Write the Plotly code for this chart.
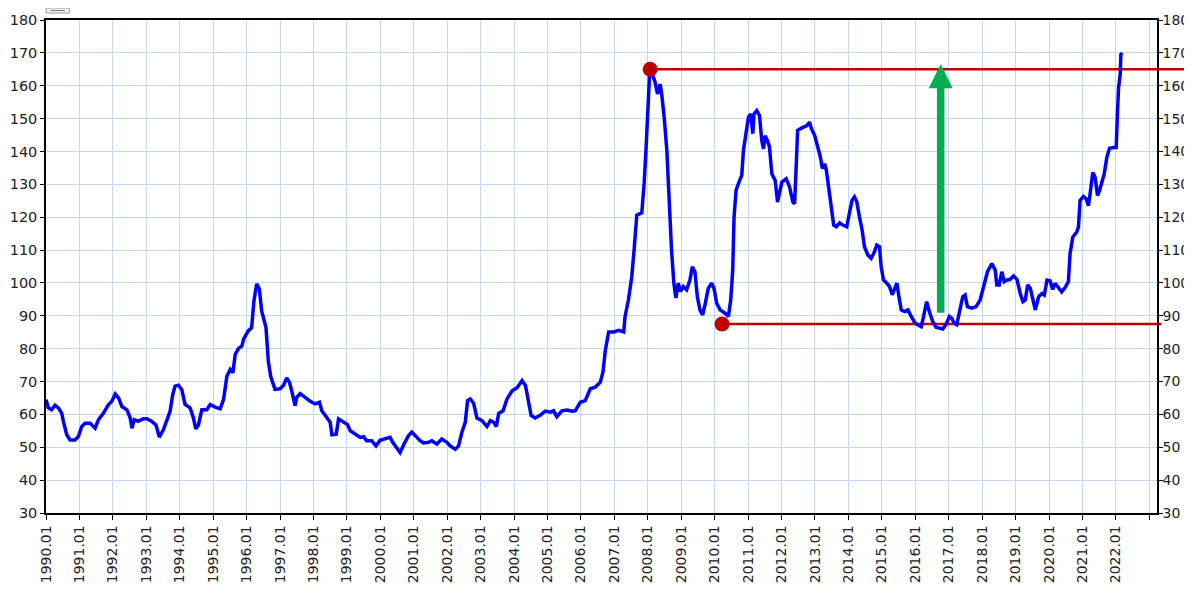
import plotly.graph_objects as go

# ---- data (decimal year, value) ----
years = [
    1990.00, 1990.07, 1990.17, 1990.27, 1990.37, 1990.47, 1990.52, 1990.62, 1990.72, 1990.87, 1990.97,
    1991.07, 1991.17, 1991.32, 1991.47, 1991.57, 1991.72, 1991.87, 1991.97, 1992.07, 1992.17, 1992.27,
    1992.42, 1992.52, 1992.57, 1992.64, 1992.76, 1992.91, 1993.01, 1993.16, 1993.29, 1993.39, 1993.51,
    1993.61, 1993.71, 1993.79, 1993.86, 1993.96, 1994.06, 1994.16, 1994.31, 1994.41, 1994.48, 1994.56,
    1994.66, 1994.81, 1994.91, 1995.06, 1995.21, 1995.31, 1995.41, 1995.51, 1995.59, 1995.66, 1995.76,
    1995.86, 1995.91, 1996.05, 1996.15, 1996.22, 1996.30, 1996.38, 1996.45, 1996.58, 1996.65, 1996.72,
    1996.85,
    1997.00, 1997.10, 1997.20, 1997.28, 1997.35, 1997.45, 1997.50, 1997.60, 1997.75, 1997.90, 1998.05,
    1998.18, 1998.25, 1998.40, 1998.50, 1998.55, 1998.68, 1998.75, 1998.90, 1999.02, 1999.10, 1999.25,
    1999.40, 1999.50, 1999.59, 1999.74, 1999.87, 1999.99, 2000.14, 2000.29, 2000.37, 2000.49, 2000.59,
    2000.71, 2000.84, 2000.94, 2001.04, 2001.19, 2001.29, 2001.44, 2001.54, 2001.69, 2001.84, 2001.99,
    2002.09, 2002.24, 2002.34, 2002.44, 2002.54, 2002.61, 2002.69, 2002.79, 2002.89, 2003.04, 2003.19,
    2003.29, 2003.39, 2003.47, 2003.54, 2003.67, 2003.79, 2003.94, 2004.09, 2004.24, 2004.34, 2004.44,
    2004.51, 2004.63, 2004.78, 2004.93, 2005.08, 2005.18, 2005.28, 2005.43, 2005.58, 2005.73, 2005.83,
    2005.98, 2006.13, 2006.28, 2006.43, 2006.58, 2006.66, 2006.73, 2006.83, 2006.98, 2007.13, 2007.28,
    2007.32, 2007.42, 2007.52, 2007.59, 2007.67, 2007.82, 2007.89, 2007.95, 2008.00, 2008.05, 2008.12,
    2008.22, 2008.29, 2008.37, 2008.42, 2008.49, 2008.57, 2008.64, 2008.71, 2008.78, 2008.84, 2008.91,
    2008.98, 2009.06, 2009.16, 2009.26, 2009.33, 2009.41, 2009.48, 2009.56, 2009.64, 2009.71, 2009.81,
    2009.91, 2009.98, 2010.06, 2010.16, 2010.31, 2010.41, 2010.48, 2010.54, 2010.58, 2010.64, 2010.71,
    2010.81, 2010.86, 2010.94, 2011.01, 2011.08, 2011.14, 2011.18, 2011.26, 2011.34, 2011.41, 2011.46,
    2011.51, 2011.58, 2011.64, 2011.71, 2011.81, 2011.88, 2011.94, 2012.01, 2012.14, 2012.24, 2012.34,
    2012.39, 2012.44, 2012.48, 2012.61, 2012.76, 2012.84,
    2012.89, 2012.99, 2013.09, 2013.16, 2013.22, 2013.29, 2013.34, 2013.42, 2013.49, 2013.56, 2013.64,
    2013.74, 2013.83, 2013.95, 2014.03, 2014.11, 2014.18, 2014.25, 2014.33, 2014.41, 2014.48, 2014.58,
    2014.68, 2014.78, 2014.85, 2014.93, 2014.98, 2015.05, 2015.15, 2015.23, 2015.31, 2015.38, 2015.45,
    2015.51, 2015.58, 2015.68, 2015.78, 2015.88, 2015.98, 2016.08, 2016.18, 2016.25, 2016.34, 2016.42,
    2016.52, 2016.62, 2016.72, 2016.82, 2016.92, 2017.02, 2017.09, 2017.16, 2017.24, 2017.34, 2017.42,
    2017.49, 2017.56, 2017.69, 2017.82, 2017.94, 2018.04, 2018.16, 2018.29, 2018.39, 2018.44, 2018.51,
    2018.59, 2018.66, 2018.74, 2018.84, 2018.94, 2019.04, 2019.14, 2019.22, 2019.29, 2019.36, 2019.44,
    2019.52, 2019.59, 2019.69, 2019.79, 2019.86, 2019.94, 2020.03, 2020.11, 2020.18, 2020.28, 2020.38,
    2020.48, 2020.58, 2020.63, 2020.71, 2020.83, 2020.88, 2020.93, 2021.03, 2021.11, 2021.18, 2021.23,
    2021.31, 2021.38, 2021.45, 2021.51, 2021.58, 2021.65, 2021.73, 2021.81, 2021.93, 2022.01, 2022.05,
    2022.08, 2022.13, 2022.15, 2022.19,
]
values = [
    64.5, 62.0, 61.4, 62.8, 62.0, 60.4, 57.9, 53.8, 52.2, 52.2, 53.3,
    56.3, 57.3, 57.3, 55.8, 58.4, 60.4, 63.0, 64.0, 66.2, 65.0, 62.4,
    61.4, 58.9, 55.8, 58.4, 57.9, 58.7, 58.7, 57.9, 56.8, 53.1, 55.3,
    57.9, 60.9, 66.0, 68.6, 68.9, 67.6, 63.0, 62.0, 58.9, 55.6, 56.8,
    61.4, 61.4, 63.0, 62.2, 61.7, 64.5, 71.6, 73.7, 72.7, 78.3, 80.1,
    80.8, 82.9, 85.4, 86.4, 94.6, 99.7, 98.2, 91.5, 86.4, 76.2, 71.6,
    67.6,
    67.8, 68.8, 71.1, 69.8, 67.2, 62.7, 65.2, 66.3, 65.2, 64.0, 63.2,
    63.7, 61.1, 58.9, 57.6, 53.8, 54.0, 58.6, 57.6, 56.9, 55.0, 54.0,
    53.0, 53.2, 52.0, 52.0, 50.4, 52.1, 52.5, 53.0, 51.5, 49.8, 48.4,
    51.0, 53.5, 54.6, 53.5, 52.0, 51.3, 51.5, 52.0, 51.0, 52.5, 51.5,
    50.4, 49.4, 50.4, 54.6, 57.6, 64.2, 64.7, 63.4, 58.9, 58.1, 56.3,
    58.1, 57.6, 56.3, 60.3, 61.1, 64.7, 67.2, 68.1, 70.3, 68.8, 63.7,
    59.7, 58.9, 59.7, 61.0, 60.7, 61.1, 59.3, 61.1, 61.3, 61.0, 61.1,
    63.7, 64.2, 67.8, 68.3, 69.8, 72.9, 79.5, 85.1, 85.1, 85.6, 85.1,
    89.8, 94.8, 101.9, 110.0, 120.6, 121.3, 130.2, 141.3, 152.4, 163.0, 164.0,
    161.0, 157.5, 160.5, 157.0, 150.4, 140.3, 124.1, 110.0, 99.9, 95.4, 99.9,
    97.4, 98.9, 97.9, 100.9, 104.9, 103.4, 95.9, 91.8, 90.3, 93.3, 98.4,
    99.9, 98.4, 93.8, 91.8, 90.8, 89.8, 94.8, 103.9, 120.1, 128.2, 130.2,
    132.7, 140.3, 145.4, 150.4, 151.4, 145.4, 151.4, 152.4, 150.9, 143.3, 140.8,
    144.8, 143.3, 141.3, 133.2, 131.2, 124.6, 127.2, 130.7, 131.7, 129.2, 124.6,
    124.1, 135.8, 146.4, 147.2, 147.9, 148.9,
    147.0, 144.9, 141.4, 138.4, 134.8, 136.3, 134.3, 128.2, 121.2, 117.6, 117.1,
    118.3, 117.6, 117.1, 121.2, 125.2, 126.2, 124.7, 120.1, 116.1, 111.0, 108.5,
    107.5, 109.5, 111.5, 111.0, 105.0, 100.9, 99.9, 98.9, 96.4, 98.4, 99.9,
    95.9, 91.8, 91.3, 91.8, 89.8, 88.0, 87.2, 86.7, 89.8, 94.3, 91.3,
    88.3, 86.5, 86.3, 86.0, 87.3, 89.8, 89.3, 87.8, 87.3, 91.8, 95.8,
    96.3, 92.8, 92.3, 92.8, 94.8, 98.8, 103.4, 105.9, 103.9, 99.4, 99.4,
    103.4, 100.4, 100.9, 101.1, 102.1, 101.1, 96.8, 94.3, 94.8, 99.4, 98.4,
    94.8, 91.8, 95.8, 96.8, 96.3, 100.9, 100.7, 98.0, 99.9, 98.6, 97.3,
    98.6, 100.4, 108.9, 113.9, 115.5, 117.0, 125.1, 126.3, 125.6, 123.5, 127.1,
    133.6, 132.1, 126.6, 128.1, 131.1, 133.1, 138.2, 141.0, 141.2, 141.2, 152.3,
    159.4, 163.4, 169.5, 170.0,
]

tick_years = list(range(1990, 2024))
tick_labels = [f"{y}.01" for y in range(1990, 2023)] + [""]
y_ticks = list(range(30, 181, 10))

peak_year, peak_value = 2008.07, 165.0
low_year, low_value = 2010.22, 87.5
arrow_year, arrow_base, arrow_tip = 2016.76, 90.5, 166.5

x_range = [1990.0, 2023.23]
y_range = [30, 180]

RED = "#c00000"
BLUE = "#0000ff"
GREEN = "#00b050"
GRID = "#c5d7f5"
FONT = dict(family="DejaVu Sans", size=14.5, color="#222222")
XFONT = dict(family="DejaVu Sans", size=14, color="#222222")


def paper_y(y):
    return (y - y_range[0]) / (y_range[1] - y_range[0])


fig = go.Figure()

# red reference lines (inside plot, under the price line)
fig.add_trace(go.Scatter(x=[peak_year, x_range[1]], y=[peak_value, peak_value], mode="lines",
                         line=dict(color=RED, width=2.5), hoverinfo="skip", showlegend=False))
fig.add_trace(go.Scatter(x=[low_year, x_range[1]], y=[low_value, low_value], mode="lines",
                         line=dict(color=RED, width=2.5), hoverinfo="skip", showlegend=False))

# price line
fig.add_trace(go.Scatter(x=years, y=values, mode="lines", line=dict(color=BLUE, width=3.5),
                         showlegend=False))

# red dots
fig.add_trace(go.Scatter(x=[peak_year, low_year], y=[peak_value, low_value], mode="markers",
                         marker=dict(color=RED, size=15), cliponaxis=False, showlegend=False))

# dummy trace for right axis
fig.add_trace(go.Scatter(x=[x_range[0]], y=[y_range[0]], yaxis="y2", mode="markers",
                         marker=dict(opacity=0), hoverinfo="skip", showlegend=False))

# green arrow
fig.add_annotation(x=arrow_year, y=arrow_tip, ax=arrow_year, ay=arrow_base,
                   xref="x", yref="y", axref="x", ayref="y", text="",
                   showarrow=True, arrowhead=2, arrowsize=0.64, arrowwidth=7.5,
                   arrowcolor=GREEN, standoff=0, startstandoff=0)

shapes = [
    # extension of the top red line beyond the right axis
    dict(type="line", xref="paper", yref="paper", x0=1.0, x1=1.04,
         y0=paper_y(peak_value), y1=paper_y(peak_value), line=dict(color=RED, width=2.5)),
    dict(type="line", xref="paper", yref="paper", x0=1.0, x1=1.004,
         y0=paper_y(low_value), y1=paper_y(low_value), line=dict(color=RED, width=2.5)),
    # tiny legend box
    dict(type="rect", xref="paper", yref="paper", x0=0.0, x1=0.021, y0=1.0142, y1=1.0243,
         line=dict(color="#999999", width=1), fillcolor="#f2f2f2"),
    dict(type="line", xref="paper", yref="paper", x0=0.004, x1=0.017, y0=1.0192, y1=1.0192,
         line=dict(color="#777777", width=1)),
]

# the page body has an 8px margin, so the figure is sized/offset to compensate
fig.update_layout(
    width=1184, height=583, autosize=False,
    margin=dict(l=38, r=35, t=12, b=78, autoexpand=False),
    paper_bgcolor="white", plot_bgcolor="white",
    font=FONT,
    shapes=shapes,
    xaxis=dict(range=x_range, tickmode="array", tickvals=tick_years, ticktext=tick_labels,
               tickangle=-90, ticks="outside", ticklen=5, tickcolor="#000", tickwidth=1,
               showgrid=True, gridcolor=GRID, gridwidth=1, zeroline=False,
               showline=True, linecolor="#000", linewidth=1.5, mirror=True,
               tickfont=XFONT, automargin=False),
    yaxis=dict(range=y_range, tickmode="array", tickvals=y_ticks, ticks="outside", ticklen=4,
               tickcolor="#000", showgrid=True, gridcolor=GRID, gridwidth=1, zeroline=False,
               showline=True, linecolor="#000", linewidth=1.5, tickfont=FONT, automargin=False),
    yaxis2=dict(range=y_range, tickmode="array", tickvals=y_ticks, ticks="outside", ticklen=4,
                tickcolor="#000", overlaying="y", side="right", showgrid=False, zeroline=False,
                showline=True, linecolor="#000", linewidth=1.5,
                tickfont=dict(family="DejaVu Sans", size=14, color="#222222"),
                ticklabelstandoff=-3, automargin=False),
)

fig.write_html("out.html")
